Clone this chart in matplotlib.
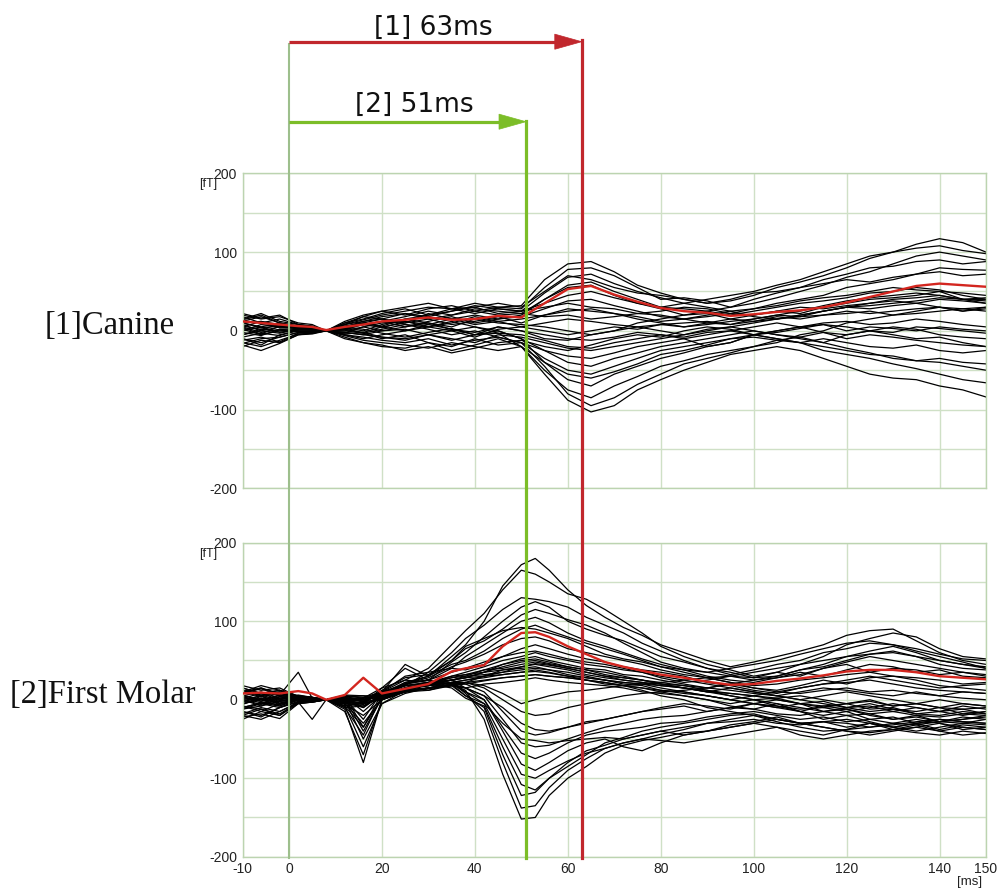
import matplotlib
matplotlib.use("Agg")
import matplotlib.pyplot as plt
from matplotlib.transforms import blended_transform_factory
from matplotlib.lines import Line2D
from matplotlib.patches import Polygon
from matplotlib.ticker import MultipleLocator

plt.rcParams['font.family'] = ['Liberation Sans', 'DejaVu Sans']
plt.rcParams['axes.unicode_minus'] = False

# ---------------- data ----------------
T_CANINE = [-10, -6, -2, 2, 5, 8, 12, 16, 20,
            25, 30, 35, 40, 45, 50,
            55, 60, 65, 70, 75,
            80, 85, 90, 95, 100,
            105, 110, 115, 120, 125,
            130, 135, 140, 145, 150]

CANINE_MEAN = [12, 10, 8, 6, 5, 1, 5, 8, 12, 14, 17, 14, 15, 19, 17, 35, 53, 57, 46, 37,
               29, 25, 23, 19, 21, 24, 26, 30, 36, 43, 50, 57, 60, 58, 56]

CANINE_TRACES = [
    [15, 22, 12, 8, 6, 0, 8, 14, 20, 25, 30, 28, 35, 30, 32, 65, 85, 88, 75, 58, 48, 40, 35, 38, 45, 55, 62, 70, 80, 92, 100, 110, 117, 112, 100],
    [10, 5, 10, 6, 4, 0, 10, 18, 25, 20, 28, 32, 25, 30, 28, 55, 78, 80, 70, 55, 40, 42, 38, 30, 35, 42, 50, 58, 68, 75, 85, 95, 100, 95, 90],
    [5, 12, 4, 4, 3, 0, 5, 12, 15, 22, 18, 25, 30, 22, 25, 48, 68, 72, 60, 50, 42, 35, 30, 25, 28, 35, 40, 45, 55, 60, 65, 72, 80, 78, 77],
    [0, 8, 6, 3, 2, 0, 2, 8, 12, 18, 25, 20, 28, 25, 22, 40, 58, 62, 50, 40, 30, 28, 25, 20, 25, 30, 35, 38, 42, 48, 50, 55, 52, 45, 40],
    [20, 15, 18, 10, 8, 0, 12, 20, 25, 30, 35, 28, 22, 28, 25, 35, 45, 50, 42, 35, 28, 20, 22, 15, 20, 25, 22, 30, 35, 40, 42, 45, 50, 40, 35],
    [-5, 2, 0, 2, 1, 0, 0, 5, 10, 12, 8, 15, 20, 15, 18, 28, 38, 40, 32, 25, 18, 15, 20, 25, 18, 15, 20, 25, 30, 28, 32, 35, 30, 25, 30],
    [8, 0, 5, 5, 3, 0, 6, 10, 5, 10, 15, 8, 12, 18, 10, 20, 28, 25, 22, 15, 10, 5, 8, 12, 15, 20, 25, 32, 38, 42, 45, 48, 45, 40, 42],
    [-10, -15, -8, -2, -1, 0, -5, -10, -5, 0, 5, 0, -8, 2, 5, 10, 15, 12, 8, 5, 0, -5, 2, 5, 0, -5, -8, -2, -10, -5, -8, -12, -15, -18, -20],
    [12, 18, 10, 6, 5, 0, 4, 0, 8, 15, 10, 5, 15, 10, 8, 5, 0, -5, 0, 10, 15, 20, 25, 30, 40, 48, 55, 65, 72, 80, 82, 88, 90, 85, 88],
    [-15, -20, -12, -4, -3, 0, -5, -8, -12, -15, -10, -18, -12, -8, -15, -25, -32, -35, -28, -20, -15, -10, -20, -15, -5, 0, 5, -2, -5, 0, 5, 2, -5, -8, -10],
    [5, -2, 2, 0, 0, 0, -2, -5, 0, 5, 10, 2, -5, 0, -10, -25, -40, -45, -35, -28, -20, -15, -10, -5, 0, -5, -10, -15, -22, -28, -35, -38, -40, -45, -50],
    [-8, -3, -6, 1, 1, 0, 2, -3, -10, -5, -15, -20, -10, -18, -15, -35, -50, -55, -45, -35, -25, -20, -15, -10, -5, 0, 5, 10, 12, 8, 10, 15, 12, 8, 5],
    [10, 12, 8, 5, 3, 0, 3, 10, 15, 8, 5, 12, 5, 0, -10, -40, -62, -70, -55, -45, -35, -28, -20, -15, -5, -10, -15, -25, -30, -35, -42, -48, -55, -62, -66],
    [-20, -12, -15, -5, -4, 0, -8, -15, -20, -22, -15, -25, -18, -10, -20, -50, -75, -85, -70, -58, -45, -38, -30, -25, -20, -15, -5, 0, 10, 15, 20, 25, 30, 28, 30],
    [0, 5, -2, 2, 1, 0, 0, -3, 2, 8, 2, -5, 0, -8, -15, -45, -80, -95, -85, -68, -55, -42, -35, -28, -20, -12, -8, -15, -5, 0, -5, -10, -8, -15, -20],
    [-12, -8, -14, -3, -2, 0, -4, -2, -8, -10, -5, -12, -5, -3, -20, -55, -88, -103, -95, -75, -62, -50, -40, -30, -25, -20, -25, -35, -45, -55, -60, -62, -70, -75, -84],
    [18, 10, 15, 8, 6, 0, 10, 15, 22, 28, 20, 25, 32, 28, 25, 30, 35, 30, 28, 22, 25, 30, 28, 22, 20, 25, 30, 28, 32, 35, 38, 35, 40, 38, 35],
    [-2, -6, 2, 3, 2, 0, 5, 2, -3, -8, -2, 3, -5, 5, 0, -10, -12, -5, 0, 5, 8, 10, 12, 8, 15, 20, 18, 25, 30, 35, 40, 42, 45, 40, 38],
    [-18, -25, -16, -5, -3, 0, -10, -15, -18, -25, -20, -28, -22, -15, -12, -20, -25, -18, -10, -5, -8, 0, 5, 2, -5, -2, 3, 8, 5, 0, -2, 5, 3, 0, -3],
    [6, 2, 8, 4, 3, 0, 6, 8, 12, 5, 12, 18, 10, 15, 20, 40, 55, 58, 45, 35, 30, 35, 40, 45, 50, 58, 65, 75, 85, 95, 100, 105, 108, 102, 98],
    [2, -5, 0, -1, -1, 0, -3, 5, 0, 2, -5, 0, 5, -3, -5, -12, -20, -22, -15, -10, -5, -8, -2, 0, 5, 10, 5, 8, 0, 5, 3, 0, 5, 2, 0],
    [-5, 0, -3, 2, 2, 0, 3, 8, 4, 12, 5, 10, 18, 12, 15, 20, 25, 28, 22, 18, 12, 15, 18, 22, 28, 32, 38, 42, 45, 50, 55, 52, 50, 48, 45],
    [10, 4, 6, 3, 2, 0, 2, -2, 5, 0, 8, 2, -2, 5, 0, -5, -10, -12, -8, -2, -5, -10, -5, 0, -5, -10, -15, -20, -25, -30, -32, -38, -35, -40, -42],
    [14, 20, 10, 5, 4, 0, 8, 12, 18, 22, 15, 20, 25, 20, 22, 18, 20, 15, 18, 22, 20, 15, 10, 8, 12, 15, 18, 20, 22, 25, 20, 22, 25, 28, 25],
    [-16, -10, -8, -2, -2, 0, -6, -12, -15, -18, -22, -15, -20, -25, -20, -40, -55, -60, -52, -42, -30, -25, -18, -10, -8, -12, -15, -10, -15, -20, -22, -18, -25, -28, -25],
    [4, -4, 6, 4, 2, 0, 4, 10, 6, 15, 20, 28, 30, 35, 30, 50, 70, 65, 55, 48, 45, 40, 35, 40, 48, 50, 55, 60, 65, 62, 68, 72, 75, 70, 72],
    [-10, -18, -5, 0, -1, 0, -2, -5, -8, -12, -5, -10, -15, -5, -8, -15, -22, -25, -20, -15, -10, -5, 0, 5, 10, 15, 20, 25, 30, 32, 35, 38, 42, 40, 40],
    [22, 16, 20, 8, 5, 0, 8, 18, 15, 10, 22, 15, 8, 12, 5, 0, -5, 0, 5, 2, 8, 5, 10, 15, 12, 18, 15, 20, 25, 22, 25, 28, 30, 25, 28],
]

T_MOLAR = [-10, -6, -2, 2, 5, 8, 12, 16, 20,
           25, 30, 35,
           38, 42, 46, 50, 53, 56, 60,
           64, 68, 72, 76, 80,
           85, 90, 95, 100, 105, 110, 115,
           120, 125, 130, 135, 140, 145, 150]

MOLAR_MEAN = [8, 9, 8, 11, 8, 0, 6, 28, 8, 14, 20, 36, 40, 44, 68, 85, 86, 80, 68,
              58, 48, 42, 37, 32, 28, 23, 19, 20, 24, 27, 31, 36, 38, 38, 35, 30, 28, 26]

MOLAR_TRACES = [
    [5, 10, 2, 6, 3, 0, -3, -6, 5, 20, 30, 55, 70, 100, 145, 172, 180, 165, 140, 120, 105, 92, 82, 70, 60, 50, 42, 48, 55, 62, 70, 82, 88, 90, 75, 60, 50, 45],
    [15, 8, 12, 4, 2, 0, 5, 2, 15, 25, 40, 70, 88, 110, 140, 165, 160, 150, 135, 128, 115, 100, 85, 68, 55, 45, 38, 30, 35, 45, 55, 70, 78, 85, 80, 65, 55, 52],
    [-5, 0, -8, 2, 1, 0, -2, -4, 10, 30, 35, 60, 78, 95, 115, 130, 128, 125, 118, 105, 95, 85, 72, 62, 50, 40, 32, 38, 45, 50, 60, 65, 72, 70, 62, 55, 48, 40],
    [10, 4, 8, 3, 2, 0, 4, 0, 8, 22, 25, 48, 60, 80, 100, 118, 125, 118, 100, 90, 82, 75, 65, 55, 48, 40, 35, 28, 30, 38, 42, 50, 58, 62, 55, 45, 40, 38],
    [0, -6, 4, 1, 1, 0, 2, -3, 12, 28, 32, 50, 65, 75, 90, 108, 115, 110, 102, 95, 85, 72, 60, 48, 40, 35, 30, 25, 28, 32, 40, 48, 55, 50, 45, 40, 35, 32],
    [-12, -5, -10, 0, -1, 0, 0, -5, 15, 40, 25, 40, 55, 70, 85, 100, 105, 98, 85, 75, 68, 60, 52, 45, 38, 30, 25, 22, 28, 35, 30, 38, 45, 42, 35, 38, 30, 28],
    [8, 14, 6, 5, 3, 0, 5, 3, 10, 45, 30, 45, 50, 62, 78, 90, 95, 88, 80, 72, 65, 58, 50, 42, 35, 28, 22, 18, 20, 25, 28, 32, 35, 30, 28, 25, 20, 22],
    [-8, -15, -5, 0, -1, 0, -5, -8, 5, 20, 28, 42, 48, 58, 70, 78, 80, 75, 65, 60, 55, 50, 45, 38, 32, 28, 22, 15, 12, 18, 25, 20, 28, 30, 25, 18, 15, 12],
    [3, -2, 6, 35, 2, 0, 3, -2, 8, 18, 35, 40, 38, 45, 55, 65, 70, 65, 58, 52, 48, 42, 38, 35, 30, 22, 18, 12, 8, 15, 20, 22, 25, 20, 15, 12, 10, 8],
    [-18, -10, -15, -3, -25, 0, -8, -5, 2, 12, 22, 30, 35, 42, 50, 55, 60, 55, 50, 45, 42, 38, 35, 30, 25, 20, 15, 10, 5, 10, 15, 12, 8, 5, 10, 5, 2, 0],
    [6, 0, 4, 2, 1, 0, 2, 0, 5, 15, 20, 28, 32, 38, 45, 52, 55, 50, 45, 40, 38, 32, 30, 25, 20, 15, 12, 8, 5, 0, 5, 10, 5, 0, -5, 0, -5, -8],
    [-3, 4, -2, 1, 0, 0, -1, 2, 6, 10, 22, 25, 28, 35, 42, 48, 50, 46, 42, 38, 35, 30, 25, 22, 18, 12, 8, 5, 2, 5, 0, -5, -2, -8, -5, -10, -12, -10],
    [12, 5, 10, 4, 2, 0, 4, 5, 0, 15, 18, 25, 30, 38, 40, 45, 48, 45, 40, 35, 30, 28, 25, 20, 15, 10, 15, 10, 5, 0, -5, -10, -8, -15, -10, -15, -12, -18],
    [-10, -4, -6, -1, -1, 0, -3, 0, 4, 12, 15, 20, 22, 30, 38, 42, 45, 42, 38, 32, 28, 25, 22, 18, 15, 12, 5, 0, 2, -5, -8, -5, -12, -10, -18, -15, -20, -15],
    [2, 8, 0, 3, 2, 0, 1, -2, 8, 18, 22, 28, 30, 32, 35, 38, 40, 38, 35, 30, 25, 22, 20, 15, 10, 5, 0, 5, 0, -5, -2, -10, -5, -12, -15, -10, -18, -20],
    [-20, -12, -18, -4, -3, 0, -10, -45, 5, 15, 18, 22, 25, 28, 32, 35, 38, 35, 30, 28, 25, 20, 18, 12, 8, 5, 0, -5, -10, -5, -15, -20, -18, -25, -20, -28, -22, -25],
    [4, -2, 2, 1, 0, 0, -12, -80, 0, 10, 12, 20, 22, 25, 28, 30, 32, 30, 28, 25, 22, 18, 15, 10, 5, 0, -5, 0, -8, -15, -20, -15, -25, -22, -30, -25, -28, -30],
    [-6, 2, -4, 0, 0, 0, -8, -60, -5, 8, 15, 18, 15, 20, 22, 25, 28, 25, 22, 20, 18, 15, 10, 8, 5, 0, -8, -12, -5, -15, -25, -20, -28, -35, -30, -38, -32, -35],
    [10, 15, 8, 4, 3, 0, -15, -70, 0, 12, 20, 30, 32, 35, 38, 40, 42, 38, 32, 28, 25, 22, 20, 22, 25, 28, 30, 35, 40, 45, 50, 55, 58, 60, 55, 50, 45, 40],
    [0, -8, 2, 1, 0, 0, -3, -5, 10, 25, 22, 20, 12, -25, -95, -152, -150, -122, -100, -85, -68, -58, -52, -48, -42, -40, -32, -28, -22, -30, -35, -40, -42, -38, -35, -40, -45, -42],
    [12, 6, 10, 3, 2, 0, 2, -40, 2, 15, 18, 22, 8, -15, -80, -138, -135, -112, -90, -75, -62, -55, -50, -44, -38, -30, -25, -20, -28, -35, -40, -38, -30, -35, -40, -35, -30, -32],
    [-15, -22, -10, -3, -2, 0, -5, -30, 0, 10, 15, 20, 5, -10, -70, -122, -118, -100, -85, -70, -55, -48, -40, -35, -30, -25, -20, -18, -25, -30, -35, -40, -45, -40, -35, -30, -38, -35],
    [5, 0, 6, 2, 1, 0, 0, -50, -5, 12, 20, 15, 2, -8, -60, -108, -115, -100, -80, -65, -58, -50, -45, -40, -45, -40, -35, -30, -35, -40, -45, -38, -35, -30, -25, -30, -35, -38],
    [-25, -15, -20, -5, -3, 0, -10, -8, 5, 18, 12, 18, 5, -5, -50, -95, -100, -90, -78, -68, -62, -55, -50, -52, -55, -50, -45, -40, -35, -45, -50, -45, -40, -38, -42, -45, -40, -43],
    [8, 15, 5, 3, 2, 0, 5, -35, 8, 20, 25, 20, 10, 0, -40, -82, -90, -80, -65, -55, -50, -60, -65, -55, -45, -40, -35, -30, -25, -30, -28, -25, -30, -35, -30, -28, -25, -20],
    [-10, -4, -8, 0, 0, 0, -5, 2, 5, 15, 20, 25, 15, 0, -35, -68, -75, -68, -55, -45, -40, -38, -35, -30, -28, -22, -18, -15, -20, -25, -22, -28, -25, -30, -32, -28, -30, -25],
    [2, -4, -2, 1, 0, 0, 2, -10, 8, 18, 22, 20, 15, 5, -25, -55, -60, -58, -50, -42, -35, -30, -25, -22, -20, -15, -10, -12, -18, -20, -15, -10, -15, -12, -18, -20, -15, -18],
    [-5, 2, -6, 0, -1, 0, -2, 0, 10, 18, 20, 25, 20, 10, -15, -40, -45, -42, -35, -28, -25, -20, -15, -10, -5, -8, -12, -5, -10, -15, -8, -12, -18, -15, -20, -22, -18, -15],
    [15, 8, 12, 4, 3, 0, 6, 5, 5, 12, 18, 22, 22, 15, 0, -15, -20, -18, -10, -5, 0, 5, 8, 10, 12, 15, 20, 25, 30, 38, 45, 55, 62, 68, 60, 50, 45, 42],
    [-20, -25, -15, -4, -3, 0, -8, -3, 2, 10, 15, 18, 22, 18, 8, -5, 0, 5, 10, 12, 15, 18, 20, 18, 15, 10, 8, 5, 10, 15, 20, 25, 30, 25, 20, 15, 18, 20],
    [-15, -20, -10, -2, -2, 0, -6, -20, 0, 10, 15, 22, 25, 30, 35, 42, 46, 44, 40, 35, 30, 25, 22, 20, 15, 10, 5, 0, -5, -10, -15, -12, -20, -25, -22, -28, -25, -22],
    [-22, -18, -24, -5, -3, 0, -8, -35, 2, 12, 20, 25, 28, 35, 45, 50, 52, 48, 42, 38, 32, 28, 25, 20, 18, 15, 20, 15, 10, 8, 12, 15, 10, 12, 8, 5, 10, 8],
    [10, 18, 12, 5, 3, 0, 4, -15, 6, 15, 22, 25, 28, 30, 32, 35, 36, 34, 30, 25, 22, 18, 12, 5, 0, -10, -15, -20, -25, -30, -28, -35, -30, -38, -32, -40, -35, -38],
    [0, 5, -5, 2, 1, 0, 2, -25, 10, 20, 25, 35, 40, 48, 55, 60, 62, 58, 52, 48, 45, 40, 35, 28, 22, 25, 30, 28, 35, 30, 40, 45, 35, 40, 38, 32, 35, 30],
    [-8, -12, -20, -2, -2, 0, -4, -5, 0, 12, 15, 18, 15, 5, -10, -30, -38, -40, -35, -30, -25, -20, -15, -12, -8, -15, -10, -5, 0, -5, -10, -5, 0, -8, -5, -10, -5, -8],
    [18, 12, 15, 4, 2, 0, 3, 0, 4, 10, 14, 18, 20, 24, 28, 30, 32, 30, 28, 25, 20, 18, 15, 12, 10, 5, 0, -5, -8, -12, -10, -15, -10, -5, -10, -15, -8, -12],
    [-3, 6, -1, 2, 1, 0, 0, 0, 5, 15, 18, 22, 10, -5, -30, -50, -52, -55, -52, -50, -48, -50, -45, -40, -35, -30, -28, -25, -30, -32, -28, -30, -35, -32, -28, -25, -28, -30],
    [-12, -8, -2, 0, -1, 0, -3, -10, 6, 22, 30, 50, 68, 78, 88, 92, 90, 85, 78, 68, 58, 52, 48, 42, 38, 35, 40, 45, 50, 58, 65, 72, 75, 70, 65, 58, 52, 50],
]

X_TICKS = [-10, 0, 20, 40, 60, 80, 100, 120, 140, 150]
Y_TICKS = [-200, -100, 0, 100, 200]
LATENCY_CANINE = 63
LATENCY_MOLAR = 51
ARROW_LABELS = ['[1] 63ms', '[2] 51ms']
PANEL_LABELS = ['[1]Canine', '[2]First Molar']

# ---------------- style ----------------
GRID_C = '#cfe0c6'
SPINE_C = '#bcd4b0'
RED = '#c1272d'
GREEN = '#7cbd28'
PALE_GREEN = '#9dbf8c'
MEAN_RED = '#d3261f'

fig = plt.figure(figsize=(10, 8.89), dpi=100)
ax1 = fig.add_axes([0.2425, 0.4507, 0.7435, 0.3543])
ax2 = fig.add_axes([0.2425, 0.0363, 0.7435, 0.3532])

for ax in (ax1, ax2):
    ax.set_xlim(-10, 150)
    ax.set_ylim(-200, 200)
    ax.set_xticks(X_TICKS)
    ax.set_yticks(Y_TICKS)
    ax.yaxis.set_minor_locator(MultipleLocator(50))
    ax.grid(True, which='both', color=GRID_C, lw=1.0, zorder=0)
    ax.set_axisbelow(True)
    for s in ax.spines.values():
        s.set_color(SPINE_C)
        s.set_linewidth(1.0)
    ax.tick_params(which='both', length=0, pad=4, labelsize=10, labelcolor='#222222')

ax1.tick_params(axis='x', labelbottom=False)

for tr in CANINE_TRACES:
    ax1.plot(T_CANINE, tr, color='black', lw=0.9, zorder=2)
ax1.plot(T_CANINE, CANINE_MEAN, color=MEAN_RED, lw=1.7, zorder=3)

for tr in MOLAR_TRACES:
    ax2.plot(T_MOLAR, tr, color='black', lw=0.9, zorder=2)
ax2.plot(T_MOLAR, MOLAR_MEAN, color=MEAN_RED, lw=1.7, zorder=3)

# unit labels
for ax in (ax1, ax2):
    ax.text(-0.046, 0.965, '[fT]', transform=ax.transAxes, ha='center', va='center',
            fontsize=9, color='#222222')
ax2.text(0.978, -0.082, '[ms]', transform=ax2.transAxes, ha='center', va='center',
         fontsize=9.5, color='#222222')

# ---------------- latency annotations ----------------
blend = blended_transform_factory(ax2.transData, fig.transFigure)
y_red = 1 - 41.7 / 889
y_green = 1 - 121.7 / 889
y_bot = 1 - 858 / 889

fig.add_artist(Line2D([0, 0], [1 - 44 / 889, y_bot], transform=blend, color=PALE_GREEN,
                      lw=1.5, zorder=5))
fig.add_artist(Line2D([LATENCY_MOLAR, LATENCY_MOLAR], [y_green + 0.001, y_bot], transform=blend,
                      color=GREEN, lw=2.3, zorder=6))
fig.add_artist(Line2D([LATENCY_CANINE, LATENCY_CANINE], [y_red + 0.002, y_bot], transform=blend,
                      color=RED, lw=2.3, zorder=7))

head_len = 5.8
head_hw = 0.0085
for lat, yy, col in ((LATENCY_CANINE, y_red, RED), (LATENCY_MOLAR, y_green, GREEN)):
    fig.add_artist(Line2D([0, lat - head_len + 0.5], [yy, yy], transform=blend, color=col,
                          lw=2.3, zorder=6, solid_capstyle='butt'))
    fig.add_artist(Polygon([[lat, yy], [lat - head_len, yy + head_hw], [lat - head_len, yy - head_hw]],
                           closed=True, transform=blend, facecolor=col, edgecolor=col,
                           lw=0.5, zorder=6))

fig.text(31, 1 - 27.5 / 889, ARROW_LABELS[0], transform=blend, ha='center', va='center',
         fontsize=19, family='DejaVu Sans', color='#111111')
fig.text(27, 1 - 105 / 889, ARROW_LABELS[1], transform=blend, ha='center', va='center',
         fontsize=19, family='DejaVu Sans', color='#111111')

# ---------------- panel labels ----------------
fig.text(0.110, 1 - 326 / 889, PANEL_LABELS[0], ha='center', va='center',
         fontsize=23.5, family='Liberation Serif', color='#111111')
fig.text(0.103, 1 - 695 / 889, PANEL_LABELS[1], ha='center', va='center',
         fontsize=23.5, family='Liberation Serif', color='#111111')

fig.savefig('out.png', dpi=100)
